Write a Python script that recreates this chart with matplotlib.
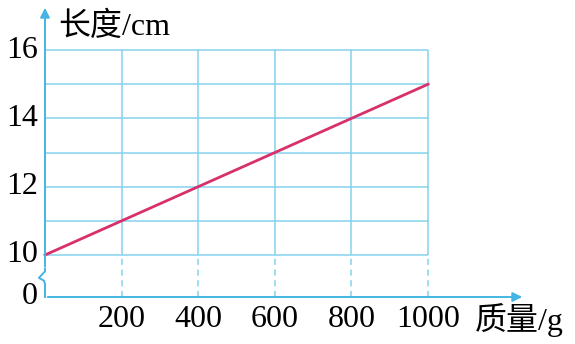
import matplotlib.pyplot as plt

# data
mass = [0, 200, 400, 600, 800, 1000]
length = [10, 11, 12, 13, 14, 15]
x_ticks = [200, 400, 600, 800, 1000]
y_ticks = [10, 12, 14, 16]
y_grid = [10, 11, 12, 13, 14, 15, 16]

axis_col = '#45b4e2'
grid_col = '#86d2ee'
line_col = '#d8306a'
serif = ['Liberation Serif', 'Noto Sans CJK SC']

# the broken axis: "0" sits this far below 10
y_zero = 8.77
x_max, y_max = 1253, 17.32

fig = plt.figure(figsize=(5.75, 3.44), dpi=100)
ax = fig.add_axes([45 / 575, 47 / 344, 480 / 575, 292 / 344])
ax.set_xlim(0, x_max)
ax.set_ylim(y_zero, y_max)
ax.axis('off')

# grid
ax.hlines(y_grid, 0, mass[-1], color=grid_col, lw=1.1)
ax.vlines(x_ticks, y_grid[0], y_grid[-1], color=grid_col, lw=1.1)
ax.vlines(x_ticks, y_zero, y_grid[0], color=grid_col, lw=1.1, linestyles=(0, (4, 3)))

# axes with arrows
ax.annotate('', xy=(x_max, y_zero), xytext=(0, y_zero),
            arrowprops=dict(arrowstyle='-|>', color=axis_col, lw=1.4, mutation_scale=14),
            annotation_clip=False)
ax.annotate('', xy=(0, y_max), xytext=(0, 9.58),
            arrowprops=dict(arrowstyle='-|>', color=axis_col, lw=1.4, mutation_scale=14),
            annotation_clip=False)
ax.plot([0, 0, -16, -3, 0, 0], [9.6, 9.52, 9.33, 9.25, 9.16, y_zero],
        color=axis_col, lw=1.4, clip_on=False, solid_joinstyle='round')

# the line
ax.plot(mass, length, color=line_col, lw=2, clip_on=False)

# tick labels
for t in x_ticks:
    ax.text(t, y_zero - 0.22, str(t), ha='center', va='top', fontsize=23, family=serif)
for t in y_ticks:
    ax.text(-18, t, str(t), ha='right', va='center', fontsize=23, family=serif)
ax.text(-18, y_zero, '0', ha='right', va='center', fontsize=23, family=serif)

# axis titles
ax.text(34, 16.67, '长度/cm', ha='left', va='center', fontsize=23, family=serif)
ax.text(1123, y_zero - 0.18, '质量/g', ha='left', va='top', fontsize=23, family=serif)

fig.savefig('out.png', dpi=100)
